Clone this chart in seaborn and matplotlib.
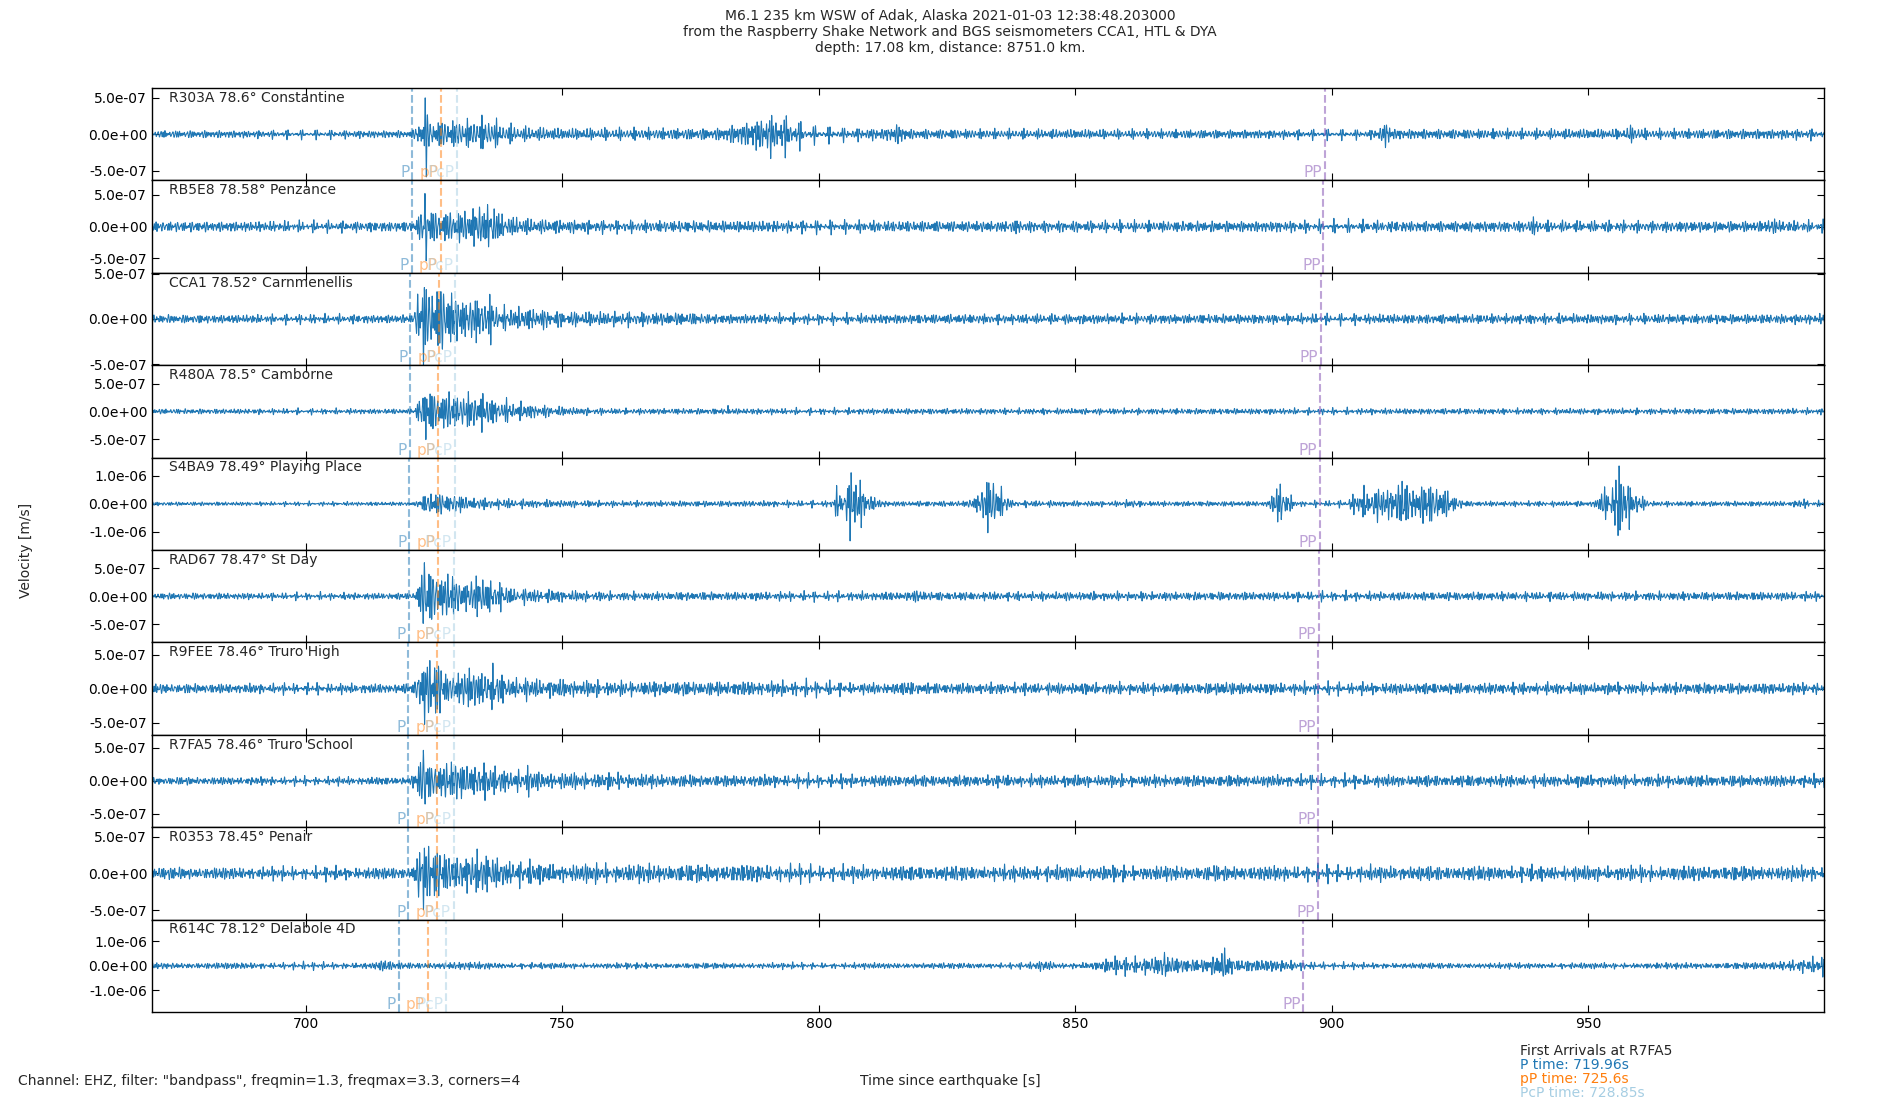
import numpy as np
import matplotlib
matplotlib.use("Agg")
import matplotlib.pyplot as plt
import seaborn as sns
from matplotlib.ticker import FormatStrFormatter

# stations, top to bottom
stations = ["R303A", "RB5E8", "CCA1", "R480A", "S4BA9", "RAD67", "R9FEE", "R7FA5", "R0353", "R614C"]
distances = [78.6, 78.58, 78.52, 78.5, 78.49, 78.47, 78.46, 78.46, 78.45, 78.12]
places = ["Constantine", "Penzance", "Carnmenellis", "Camborne", "Playing Place",
          "St Day", "Truro High", "Truro School", "Penair", "Delabole 4D"]

# arrival times [s]
p_times = [720.74, 720.63, 720.30, 720.18, 720.13, 720.02, 719.96, 719.96, 719.90, 718.10]
pp_depth_times = [726.37, 726.26, 725.93, 725.82, 725.77, 725.66, 725.60, 725.60, 725.55, 723.75]
pcp_times = [729.48, 729.39, 729.12, 729.03, 728.99, 728.90, 728.85, 728.85, 728.80, 727.30]
pp_times = [898.6, 898.4, 897.9, 897.7, 897.7, 897.5, 897.4, 897.4, 897.3, 894.5]

# y half range per panel, in 1e-7 m/s, and tick step
y_half = [6.33, 7.3, 5.1, 8.3, 16.5, 8.3, 6.8, 7.0, 6.3, 19.0]
y_step = [5, 5, 5, 5, 10, 5, 5, 5, 5, 10]

# amplitude envelope: (time s, amplitude 1e-7 m/s)
envelopes = [
    [(670, 0.45), (720.5, 0.45), (721.2, 0.6), (722, 1.7), (728, 1.6), (733, 1.7), (735.5, 2.0),
     (738, 1.3), (742, 0.9), (750, 0.7), (780, 0.7), (786, 1.5), (790.5, 2.4), (794, 2.0),
     (798, 0.9), (805, 0.7), (813, 0.7), (815.5, 1.3), (817.5, 0.6), (908, 0.5), (910.8, 1.5),
     (912.5, 0.6), (956, 0.6), (959.3, 1.1), (961, 0.6), (996, 0.6)],
    [(670, 0.7), (720.5, 0.7), (721.5, 1.0), (722.5, 2.4), (727.5, 2.1), (731.5, 2.3),
     (733.5, 2.9), (736.5, 3.0), (738.5, 1.5), (745, 1.0), (760, 0.8), (836, 0.75), (838.5, 1.0),
     (840.5, 0.75), (937, 0.75), (939.3, 1.2), (941, 0.75), (984, 0.75), (986.2, 1.2),
     (988, 0.75), (996, 0.75)],
    [(670, 0.4), (720.8, 0.4), (721.8, 2.5), (723.5, 3.2), (728, 3.1), (729.5, 2.0),
     (733.5, 2.1), (736.5, 2.0), (737.5, 1.1), (745, 1.0), (750, 0.7), (775, 0.6),
     (780, 0.45), (996, 0.45)],
    [(670, 0.4), (721.2, 0.4), (722.3, 3.1), (726.5, 3.1), (730.5, 2.6), (734.5, 2.9),
     (736.5, 2.0), (740.5, 1.5), (745, 1.0), (752, 0.6), (760, 0.45), (996, 0.45)],
    [(670, 0.6), (721.5, 0.6), (723, 3.0), (724.5, 3.6), (730.5, 2.5), (732.5, 1.8), (745, 1.2),
     (760, 0.9), (802, 0.9), (804.5, 6.0), (806.5, 10.0), (808.5, 6.0), (811, 1.5), (814, 0.8),
     (829, 0.9), (831.5, 4.0), (833.5, 9.0), (835.5, 5.0), (837.5, 1.0), (859, 0.8),
     (861, 1.6), (862.5, 0.8), (887.5, 0.8), (889.3, 5.0), (890.1, 8.3), (891.5, 3.0),
     (893, 0.8), (902, 0.9), (904.5, 3.0), (907.5, 5.2), (910.5, 4.5), (913.5, 7.3),
     (916.5, 5.0), (919, 6.8), (921.5, 5.0), (924.5, 2.0), (926.5, 0.8), (951, 0.8),
     (953.5, 5.0), (956, 11.0), (958, 6.5), (960.5, 2.0), (962.5, 0.8), (990, 0.8),
     (992, 1.6), (993.5, 0.8), (996, 0.8)],
    [(670, 0.5), (721.2, 0.5), (722.3, 3.6), (724.5, 4.3), (728, 3.3), (730.5, 2.5),
     (735.5, 3.1), (737.5, 2.0), (740.5, 1.2), (750, 0.9), (760, 0.65), (817, 0.65),
     (819.8, 1.1), (821.5, 0.65), (996, 0.65)],
    [(670, 0.6), (721, 0.6), (722.3, 3.3), (725.5, 3.6), (727.5, 2.0), (732.5, 2.4),
     (736.5, 2.7), (738.5, 1.5), (745, 1.2), (760, 0.9), (800, 0.9), (801, 1.1), (803, 0.7),
     (816, 0.7), (817.8, 1.1), (819.5, 0.7), (877, 0.7), (879.6, 1.1), (881.5, 0.7), (996, 0.7)],
    [(670, 0.5), (720.5, 0.5), (722.2, 2.6), (724.5, 2.7), (730.5, 2.3), (734.5, 2.4),
     (736.5, 1.6), (742.5, 1.5), (743.5, 1.8), (745.5, 1.1), (758, 1.0), (765, 0.9),
     (780, 0.75), (996, 0.75)],
    [(670, 0.7), (720.5, 0.7), (722, 3.0), (724.5, 3.0), (727.5, 2.4), (733.5, 2.4),
     (736.5, 1.8), (741.5, 1.6), (745.5, 1.1), (790, 1.0), (800, 0.85), (875, 0.85),
     (877, 1.0), (878.5, 0.85), (996, 0.85)],
    [(670, 1.1), (713, 1.1), (715.3, 2.2), (717, 1.2), (735, 1.3), (740, 1.0), (841, 1.0),
     (844.2, 2.0), (846.5, 1.0), (854, 1.3), (857.5, 2.8), (862.5, 3.0), (866.5, 4.3),
     (868.5, 3.4), (871.5, 2.0), (875.5, 2.2), (878, 4.8), (879.5, 5.3), (881.5, 2.5),
     (885.5, 2.0), (895.5, 1.6), (900, 1.0), (960, 1.0), (985, 1.2), (990, 2.4), (996, 2.8)],
]

# sharp single pulses on top of the envelope: (time s, amplitude 1e-7 m/s)
spikes = [
    [(723.2, 4.0), (723.45, -3.8)],
    [(723.2, 4.6), (723.45, -5.2)],
    [(722.9, -2.5)],
    [(723.1, 3.0), (723.35, -5.2), (735.4, -2.0), (782.3, 1.0)],
    [],
    [(723.1, 2.5), (723.4, -2.8), (735.4, -2.2)],
    [(723.7, 1.8), (723.1, -3.0), (736.0, -1.8)],
    [(722.9, 2.6), (723.2, -3.0), (735.4, -2.2), (761.4, 1.2)],
    [(722.6, 1.8), (722.9, -3.2), (735.4, 1.2)],
    [(867.4, 3.2), (867.65, -2.6), (879.1, 4.0), (879.35, -3.2)],
]

band = [1.41, 1.77, 2.09, 2.46, 2.83, 3.17]  # Hz, inside the 1.3-3.3 Hz bandpass

t = np.arange(669.96, 996.0, 0.01)


def make_trace(i):
    kt, ka = zip(*envelopes[i])
    env = np.interp(t, kt, ka)
    wave = np.zeros_like(t)
    for k, f in enumerate(band):
        wave += np.sin(2 * np.pi * (f + 0.017 * i * (k % 3 - 1)) * t + 1.9 * k + 1.3 * i * k)
    wave /= np.quantile(np.abs(wave), 0.95)
    trace = env * wave
    for t0, a in spikes[i]:
        d = t - t0
        trace += a * np.cos(2 * np.pi * 2.2 * d) * np.exp(-(d / 0.18) ** 2)
    return trace * 1e-7


sns.set_style("ticks")
plt.rcParams["font.family"] = ["DejaVu Sans"]
plt.rcParams["axes.edgecolor"] = "black"
plt.rcParams["axes.linewidth"] = 1.0
plt.rcParams["xtick.color"] = "black"
plt.rcParams["ytick.color"] = "black"

fig, axes = plt.subplots(len(stations), 1, sharex=True, figsize=(19, 11), dpi=100)
fig.subplots_adjust(left=0.08, right=0.96, top=0.92, bottom=0.08, hspace=0)

phase_styles = [("P", "#1f77b4", 0.5), ("pP", "#ff7f0e", 0.5), ("PcP", "#a6cee3", 0.5), ("PP", "#9467bd", 0.6)]

for i, ax in enumerate(axes):
    trace = make_trace(i)
    sns.lineplot(x=t, y=trace, ax=ax, color="#1f77b4", linewidth=0.75, estimator=None, sort=False)
    lim = y_half[i] * 1e-7
    ax.set_ylim(-lim, lim)
    step = y_step[i] * 1e-7
    ax.set_yticks([-step, 0, step])
    ax.yaxis.set_major_formatter(FormatStrFormatter("%.1e"))
    ax.tick_params(axis="both", direction="in", top=True, right=True, length=5, labelsize=10)
    ax.set_ylabel("")
    ax.text(0.01, 0.97, f"{stations[i]} {distances[i]}\u00b0 {places[i]}", transform=ax.transAxes,
            ha="left", va="top", fontsize=10)
    times = [p_times[i], pp_depth_times[i], pcp_times[i], pp_times[i]]
    for (name, col, alpha), tp in zip(phase_styles, times):
        ax.axvline(tp, color=col, alpha=alpha, linestyle="--", linewidth=1.5)
        ax.annotate(name, (tp, -lim), xytext=(-2, 0), textcoords="offset points",
                    color=col, alpha=alpha, ha="right", va="bottom", fontsize=11)

axes[-1].set_xlim(669.96, 996.0)
axes[-1].set_xlabel("")

fig.suptitle("M6.1 235 km WSW of Adak, Alaska 2021-01-03 12:38:48.203000\n"
             "from the Raspberry Shake Network and BGS seismometers CCA1, HTL & DYA\n"
             "depth: 17.08 km, distance: 8751.0 km.", y=0.992, fontsize=10)
fig.text(0.01, 0.5, "Velocity [m/s]", rotation=90, ha="left", va="center", fontsize=10)
fig.text(0.5, 0.017, "Time since earthquake [s]", ha="center", va="center", fontsize=10)
fig.text(0.0095, 0.017, 'Channel: EHZ, filter: "bandpass", freqmin=1.3, freqmax=3.3, corners=4',
         ha="left", va="center", fontsize=10)
fig.text(0.8, 0.0445, "First Arrivals at R7FA5", ha="left", va="center", fontsize=10)
fig.text(0.8, 0.032, "P time: 719.96s", color="#1f77b4", ha="left", va="center", fontsize=10)
fig.text(0.8, 0.019, "pP time: 725.6s", color="#ff7f0e", ha="left", va="center", fontsize=10)
fig.text(0.8, 0.0065, "PcP time: 728.85s", color="#a6cee3", ha="left", va="center", fontsize=10)

fig.savefig("out.png", dpi=100)
